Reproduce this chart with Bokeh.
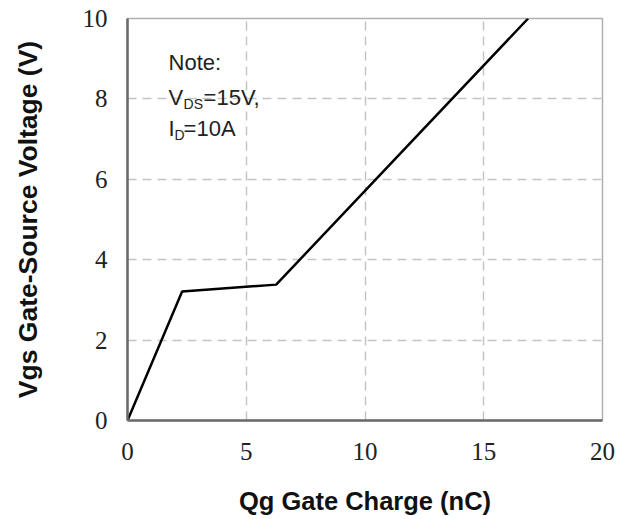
from bokeh.plotting import figure
from bokeh.models import Range1d, Label, FixedTicker
from bokeh.embed import file_html
from bokeh.resources import INLINE

# Data
qg_nc = [0.0, 2.3, 6.26, 16.87]
vgs_v = [0.0, 3.21, 3.38, 10.0]
x_ticks = [0, 5, 10, 15, 20]
y_ticks = [0, 2, 4, 6, 8, 10]

p = figure(width=622, height=518, output_backend="svg", toolbar_location=None,
           x_range=Range1d(0, 20), y_range=Range1d(0, 10))
p.min_border_left = 127
p.min_border_right = 20
p.min_border_top = 18
p.min_border_bottom = 98

p.outline_line_color = "#b0b0b0"
p.outline_line_width = 1.5

for ax in (p.xaxis[0], p.yaxis[0]):
    ax.axis_line_color = "#6a6a6a"
    ax.axis_line_width = 2.5
    ax.major_tick_line_color = None
    ax.minor_tick_line_color = None
    ax.major_label_text_font = "Liberation Serif"
    ax.major_label_text_font_size = "25px"
    ax.major_label_text_color = "#222222"
    ax.axis_label_text_font = "Liberation Sans"
    ax.axis_label_text_font_style = "bold"
    ax.axis_label_text_color = "#111111"

p.xaxis.axis_label_text_font_size = "25.5px"
p.yaxis.axis_label_text_font_size = "26.5px"
p.xaxis.ticker = FixedTicker(ticks=x_ticks)
p.yaxis.ticker = FixedTicker(ticks=y_ticks)
p.xaxis.major_label_standoff = 16
p.yaxis.major_label_standoff = 14
p.xaxis.axis_label = "Qg Gate Charge (nC)"
p.yaxis.axis_label = "Vgs Gate-Source Voltage (V)"
p.xaxis.axis_label_standoff = 24
p.yaxis.axis_label_standoff = 37

for g in (p.xgrid[0], p.ygrid[0]):
    g.grid_line_color = "#c4c4c4"
    g.grid_line_width = 1.5
    g.grid_line_dash = "9 6"

p.line(qg_nc, vgs_v, line_color="black", line_width=2.5)

font = "Liberation Sans"
main = dict(text_font=font, text_font_size="22px", text_color="#222222",
            text_baseline="middle")
sub = dict(text_font=font, text_font_size="14px", text_color="#222222",
           text_baseline="middle")

p.add_layout(Label(x=1.73, y=8.91, text="Note:", **main))
p.add_layout(Label(x=1.73, y=8.03, text="V", **main))
p.add_layout(Label(x=1.73, y=8.03, x_offset=15, y_offset=-6, text="DS", **sub))
p.add_layout(Label(x=1.73, y=8.03, x_offset=35, text="=15V,", **main))
p.add_layout(Label(x=1.73, y=7.26, text="I", **main))
p.add_layout(Label(x=1.73, y=7.26, x_offset=6, y_offset=-6, text="D", **sub))
p.add_layout(Label(x=1.73, y=7.26, x_offset=15, text="=10A", **main))

open("out.html", "w").write(file_html(p, INLINE))
